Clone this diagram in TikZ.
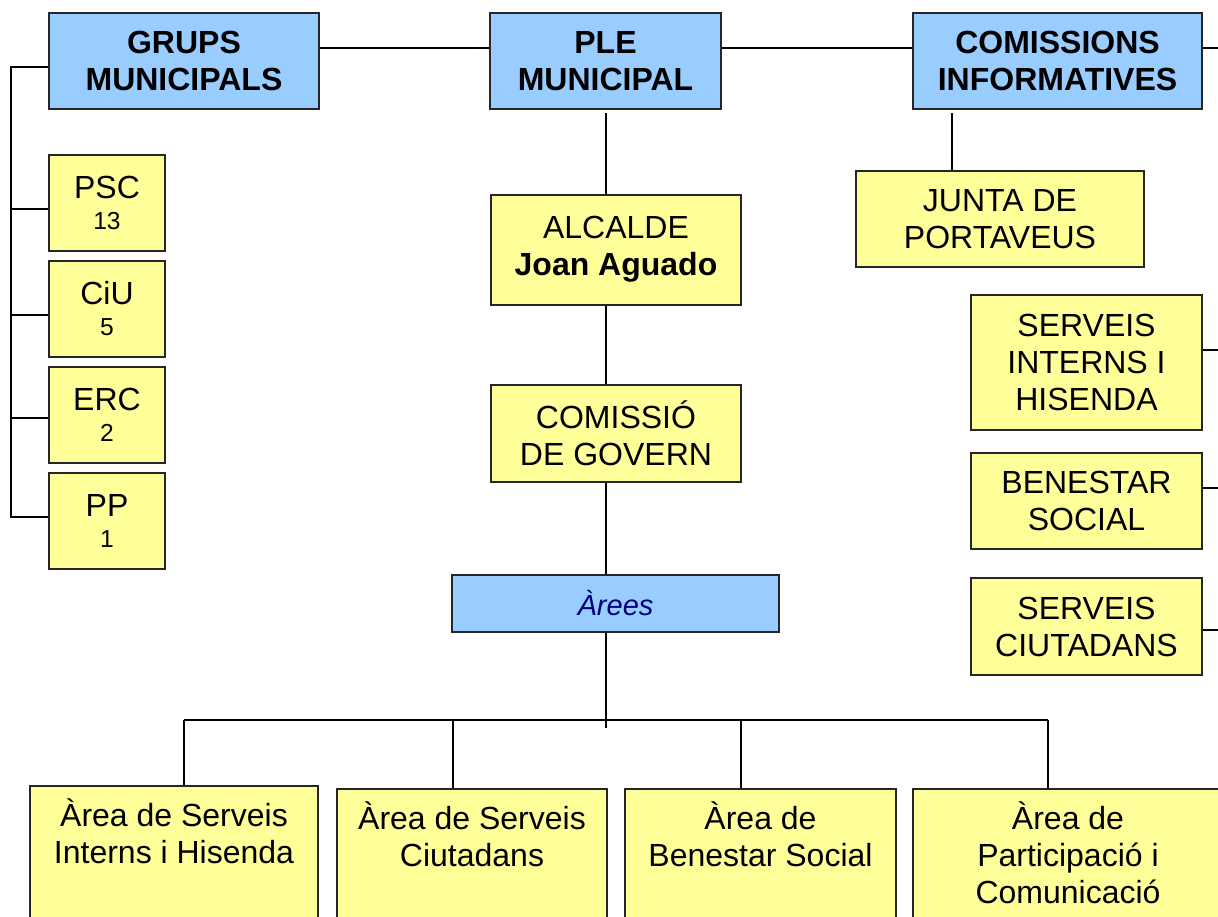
\documentclass[tikz,border=0pt]{standalone}
\usepackage{fontspec}
\setmainfont{Liberation Sans}
\usetikzlibrary{calc}

\definecolor{boxblue}{HTML}{99CCFF}
\definecolor{boxyellow}{HTML}{FFFF99}
\definecolor{areanavy}{HTML}{000080}
\newcommand{\seatfont}{\fontsize{24.6}{29}\selectfont}

\begin{document}
\begin{tikzpicture}[x=1pt, y=-1pt, line width=2pt,
    orgbox/.style={draw=black!85, line width=2pt, align=center, inner sep=0pt,
      font=\fontsize{32}{37}\selectfont},
    bluebox/.style={orgbox, fill=boxblue, font=\fontsize{32}{37}\selectfont\bfseries},
    yellowbox/.style={orgbox, fill=boxyellow},
    partybox/.style={yellowbox, minimum width=116, minimum height=96},
    comisbox/.style={yellowbox, minimum width=231},
    areabox/.style={yellowbox, anchor=north, inner ysep=13pt, text depth=200pt}]
			%%%%% START %%%%%
			\useasboundingbox (0,0) rectangle (1218,916);
			\clip (0,0) rectangle (1218,916);
			
			% top row
			\node[bluebox, minimum width=270, minimum height=96] (gm) at (184,61) {GRUPS\\MUNICIPALS};
			\node[bluebox, minimum width=231, minimum height=96] (ple) at (605.5,61) {PLE\\MUNICIPAL};
			\node[bluebox, minimum width=289, minimum height=96] (ci) at (1057.5,61) {COMISSIONS\\INFORMATIVES};
			
			% groups
			\node[partybox] (psc) at (107,202.5) {PSC\\[-6pt]\seatfont 13};
			\node[partybox] (ciu) at (107,308.5) {CiU\\[-6pt]\seatfont 5};
			\node[partybox] (erc) at (107,414.5) {ERC\\[-6pt]\seatfont 2};
			\node[partybox] (pp) at (107,520.5) {PP\\[-6pt]\seatfont 1};
			
			% centre column
			\node[yellowbox, minimum width=250, minimum height=110] (alc) at (616,249.5) {ALCALDE\\\textbf{Joan Aguado}};
			\node[yellowbox, minimum width=250, minimum height=97] (cg) at (616,433.5) {COMISSIÓ\\DE GOVERN};
			\node[orgbox, fill=boxblue, text=areanavy, font=\fontsize{29}{35}\selectfont\itshape,
			      minimum width=327, minimum height=57] (ar) at (615.5,603.5) {Àrees};
			
			% commissions
			\node[yellowbox, minimum width=288, minimum height=96] (jp) at (1000,219) {JUNTA DE\\PORTAVEUS};
			\node[comisbox, minimum height=135] (sih) at (1086.5,362.5) {SERVEIS\\INTERNS I\\HISENDA};
			\node[comisbox, minimum height=96] (bs) at (1086.5,501) {BENESTAR\\SOCIAL};
			\node[comisbox, minimum height=97] (sc) at (1086.5,626.5) {SERVEIS\\CIUTADANS};
			
			% areas
			\node[areabox, minimum width=288] (a1) at (174,785) {Àrea de Serveis\\Interns i Hisenda};
			\node[areabox, minimum width=270] (a2) at (472,788) {Àrea de Serveis\\Ciutadans};
			\node[areabox, minimum width=271] (a3) at (760.5,788) {Àrea de\\Benestar Social};
			\node[areabox, minimum width=310] (a4) at (1068,788) {Àrea de\\Participació i\\Comunicació};
			
			\coordinate (lft) at (11,67);
			\coordinate (spine) at (606,113);
			\coordinate (cij) at (952,113);
			\coordinate (redge) at (1218,48);
			\coordinate (busl) at (184,720);
			\coordinate (busr) at (1048,720);
			\coordinate (busend) at (606,728);
			
			\draw (gm.east |- redge) -- (ple.west |- redge);
			\draw (ple.east |- redge) -- (ci.west |- redge);
			\draw (ci.east |- redge) -- (redge);
			
			\draw (gm.west |- lft) -- (lft) -- (lft |- 0,517) -- (pp.west |- 0,517);
			\foreach \n/\yy in {psc/209, ciu/315, erc/418}
				\draw (lft |- 0,\yy) -- (\n.west |- 0,\yy);
			
			\draw (spine) -- (spine |- alc.north);
			\draw (spine |- alc.south) -- (spine |- cg.north);
			\draw (spine |- cg.south) -- (spine |- ar.north);
			\draw (spine |- ar.south) -- (busend);
			\draw (busl) -- (busr);
			\foreach \n/\xx in {a1/184, a2/453, a3/741, a4/1048}
				\draw (\xx,720) -- (\n.north -| \xx,0);
			
			\draw (cij) -- (cij |- jp.north);
			\foreach \n/\yy in {sih/350, bs/488, sc/630}
				\draw (\n.east |- 0,\yy) -- (redge |- 0,\yy);
			%%%%% END %%%%%
\end{tikzpicture}
\end{document}
